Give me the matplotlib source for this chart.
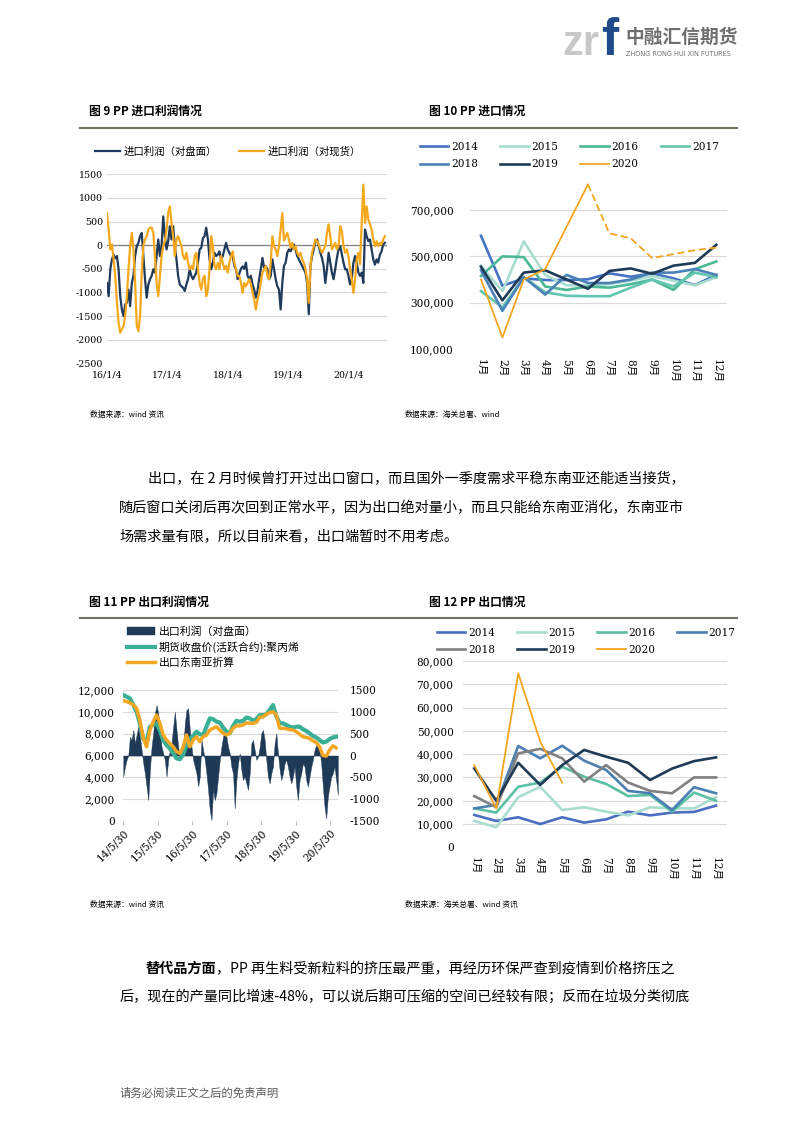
import numpy as np
import pandas as pd
import matplotlib
matplotlib.use('Agg')
import matplotlib.pyplot as plt
from matplotlib.lines import Line2D

CJK = ['Noto Sans CJK SC', 'DejaVu Sans']
SERIF = ['DejaVu Serif', 'Noto Sans CJK SC']
plt.rcParams['font.family'] = CJK
plt.rcParams['axes.unicode_minus'] = False

# ---------------- data ----------------
# Fig 9: import profit (10-day samples from 2016-01-04)
imp_profit_futures = [
    -800, -1080, -510, -300, -200, -280, -230, -510, -1080, -1360, -1500, -1250, -1220, -940, -1290, -800,
    -650, -230, -20, 50, 190, 260, -230, -720, -1110, -830, -720, -650, -510, -580, -230, 120,
    -230, -20, 610, 190, -90, 85, 400, 120, 400, -20, -300, -650, -830, -870, -900, -970,
    -830, -720, -510, -650, -720, -650, -580, -370, -90, -55, 150, 190, 370, 120, -300, -510,
    -370, -160, -230, -200, -130, -300, -230, -90, 50, -90, -160, -230, -230, -440, -510, -720,
    -600, -500, -450, -500, -370, -650, -720, -650, -830, -940, -1110, -970, -720, -510, -270, -480,
    -440, -510, -720, -650, -300, -510, -720, -870, -940, -1360, -800, -440, -370, -160, -90, -130,
    -55, 15, -90, -230, -300, -370, -440, -510, -580, -800, -1460, -440, -230, -90, 85, 120,
    -20, -160, -270, -440, -800, -510, -160, -370, -580, -720, -510, -270, -90, -20, -200, -370,
    -510, -510, -650, -830, -720, -370, -230, -370, -580, -650, -580, -800, 330, 190, 85, 120,
    -90, -300, -410, -300, -370, -200, -130, 15, 50]
imp_profit_spot = [
    680, 330, -90, 15, -300, -650, -1220, -1640, -1850, -1780, -1710, -1500, -1080, -510, -20, 260,
    -90, -800, -1710, -1820, -1500, -600, 0, 120, 190, 330, 370, 370, 260, -230, -800, -1080,
    -650, -230, -20, 85, 330, 680, 820, 470, 190, -230, 120, 190, 85, -20, -230, -300,
    -160, -370, -510, -440, -510, -230, -160, -510, -800, -940, -720, -650, -1080, -940, -510, 190,
    -20, -440, -510, -370, -510, -230, -370, -510, -440, -580, -370, -230, -130, -370, -510, -650,
    -650, -800, -1010, -800, -870, -800, -720, -830, -1010, -1150, -1360, -1150, -1010, -800, -580, -510,
    -440, -650, -720, -370, 190, -20, -90, -230, -20, 330, 680, 100, 190, 260, 120, -55,
    50, -90, -20, -160, -230, -160, -300, -370, -510, -720, -1220, -440, -160, -20, 120, 85,
    15, -90, -160, -90, -20, 260, 440, 190, -90, -20, 50, -90, -20, 400, 300, -20,
    -160, -90, -230, -510, -720, -1010, -720, -300, -160, -400, 470, 1280, 470, 820, 540, 440,
    330, 120, -20, 85, -20, 50, 15, 120, 190]
ticks9 = ['2016-01-04', '2017-01-04', '2018-01-04', '2019-01-04', '2020-01-04']
ticklabels9 = ['16/1/4', '17/1/4', '18/1/4', '19/1/4', '20/1/4']

# Fig 10: monthly imports (t)
months = ['1月', '2月', '3月', '4月', '5月', '6月', '7月', '8月', '9月', '10月', '11月', '12月']
years = ['2014', '2015', '2016', '2017', '2018', '2019', '2020']
imp_2014 = [589000, 373000, 405000, 398000, 398000, 401000, 427000, 412000, 427000, 405000, 376000, 420000]
imp_2015 = [460000, 350000, 565000, 420000, 375000, 375000, 380000, 395000, 415000, 395000, 375000, 410000]
imp_2016 = [415000, 500000, 497000, 370000, 355000, 370000, 365000, 380000, 400000, 355000, 445000, 478000]
imp_2017 = [350000, 280000, 410000, 345000, 330000, 328000, 328000, 365000, 400000, 370000, 430000, 410000]
imp_2018 = [440000, 265000, 410000, 335000, 420000, 385000, 385000, 400000, 430000, 430000, 445000, 420000]
imp_2019 = [455000, 310000, 430000, 440000, 400000, 360000, 437000, 448000, 425000, 460000, 472000, 550000]
imp_2020 = [400000, 150000, 400000, 445000, 628000, 811000, 600000, 578000, 493000, 510000, 527000, 538000]

# Fig 11: export profit (right axis) and prices (left axis), 2014-05-30 .. 2020-08
exp_profit = [
    -485, -255, -100, 0, 430, 355, 585, 280, 470, 660, 430, 125, -180, -410, -710, -1020,
    -330, 200, 510, 965, 1155, 965, 585, 200, 50, -100, -485, -100, 125, 280, 660, 1000,
    585, 200, -100, -30, 125, 735, 1040, 1080, 585, 200, -100, -255, -410, -710, -485, 355,
    125, -100, -410, -790, -1250, -1480, -790, -1020, -865, -485, -100, 200, 430, 585, 430, 200,
    50, -255, -410, -1210, -560, -180, 50, -330, -560, -485, -640, -790, -410, 280, 355, 125,
    -100, -30, 200, 510, 585, 355, -100, -485, -640, -410, -255, 280, 510, 50, -330, -560,
    -410, -180, -100, -255, -485, -640, -485, -255, -710, -1020, -560, -410, -180, -255, -560, -710,
    -485, -255, -100, 125, 240, 200, 125, -180, -710, -1170, -1440, -940, -710, -485, -410, -255,
    -560, -900]
fut_price = [
    11540, 11390, 11230, 10620, 10010, 8900, 7500, 7270, 8640, 8790, 8950, 8300, 7400, 6950, 6650, 6200,
    5740, 5650, 6100, 6950, 7500, 7800, 8180, 7950, 7870, 8640, 9400, 9330, 9100, 9020, 8560, 8180,
    8030, 8700, 9180, 9100, 9180, 9480, 9400, 9180, 9330, 9700, 9700, 9780, 10170, 10620, 9600, 8950,
    8950, 8790, 8640, 8560, 8640, 8640, 8400, 8250, 8030, 7800, 7650, 7420, 7190, 7270, 7500, 7650,
    7720]
sea_price = [
    11020, 10930, 10840, 10620, 10320, 9200, 7600, 6800, 8330, 9100, 9710, 8950, 7880, 7420, 7110, 6800,
    6350, 6190, 6800, 7880, 6800, 7420, 7720, 7270, 7720, 7880, 8330, 8490, 8640, 8330, 8030, 7880,
    8030, 8500, 8720, 8720, 8800, 8980, 8950, 8950, 9030, 9500, 9530, 9780, 9930, 10010, 9710, 8490,
    8490, 8450, 8360, 8330, 8180, 7950, 7720, 7650, 7570, 7340, 7190, 6800, 6000, 5950, 6500, 6880,
    6700]
ticks11 = ['2014-05-30', '2015-05-30', '2016-05-30', '2017-05-30', '2018-05-30', '2019-05-30', '2020-05-30']
ticklabels11 = ['14/5/30', '15/5/30', '16/5/30', '17/5/30', '18/5/30', '19/5/30', '20/5/30']

# Fig 12: monthly exports (t)
exp_2014 = [13900, 11300, 12900, 10000, 12900, 10600, 12000, 15300, 13700, 14900, 15200, 17900]
exp_2015 = [11300, 8600, 21500, 26000, 16000, 17200, 15300, 13700, 17200, 16700, 16700, 21500]
exp_2016 = [16700, 14900, 26000, 27800, 34600, 30300, 27200, 22000, 22500, 15300, 23500, 20000]
exp_2017 = [16700, 18200, 43500, 38200, 43600, 37200, 33200, 24200, 23200, 16000, 25800, 23200]
exp_2018 = [22000, 17200, 40300, 42300, 38200, 28200, 35300, 27800, 24200, 23200, 30000, 30000]
exp_2019 = [33900, 20000, 36300, 26800, 35300, 41800, 38900, 36300, 28900, 33800, 37000, 38600]
exp_2020 = [35300, 16700, 74700, 45400, 27800]

# ---------------- figure ----------------
W, H = 793, 1122
fig = plt.figure(figsize=(W / 100, H / 100), dpi=100)


def fx(px):
    return px / W


def fy(py):
    return 1 - py / H


def axes_px(l, t, r, b):
    return fig.add_axes([l / W, 1 - b / H, (r - l) / W, (b - t) / H])


def style(ax, size, xpad, ypad):
    for s in ax.spines.values():
        s.set_visible(False)
    ax.tick_params(length=0, labelsize=size)
    ax.tick_params(axis='x', pad=xpad)
    ax.tick_params(axis='y', pad=ypad)
    ax.yaxis.grid(True, color='#D9D9D9', lw=0.8)
    ax.set_axisbelow(True)
    for lab in ax.get_xticklabels() + ax.get_yticklabels():
        lab.set_family(SERIF)


def row_major(items, ncol):
    # reorder so that a column-filled legend reads row by row
    nrow = int(np.ceil(len(items) / ncol))
    out = []
    for c in range(ncol):
        for r in range(nrow):
            i = r * ncol + c
            if i < len(items):
                out.append(items[i])
    return out


# header logo
fig.text(fx(562), fy(55), 'zr', fontsize=30, fontweight='bold', color='#C8C8C8',
         family='Liberation Sans', va='baseline')
fig.text(fx(601), fy(55), 'f', fontsize=37, fontweight='bold', color='#1F4A8A',
         family='Liberation Sans', va='baseline')
fig.text(fx(625), fy(37), '中融汇信期货', fontsize=13.5, fontweight='bold', color='#6E6E6E', va='center')
fig.text(fx(626), fy(54.5), 'ZHONG RONG HUI XIN FUTURES', fontsize=4.7, color='#6E6E6E',
         family='DejaVu Sans', va='center')

# titles and rules
fig.text(fx(89), fy(111.7), '图 9 PP 进口利润情况', fontsize=8.5, fontweight='bold', va='center')
fig.text(fx(429), fy(111.7), '图 10 PP 进口情况', fontsize=8.5, fontweight='bold', va='center')
fig.text(fx(89), fy(602.7), '图 11 PP 出口利润情况', fontsize=8.5, fontweight='bold', va='center')
fig.text(fx(429), fy(602.7), '图 12 PP 出口情况', fontsize=8.5, fontweight='bold', va='center')
for yy in (127.7, 618.3):
    fig.add_artist(Line2D([fx(80), fx(737)], [fy(yy), fy(yy)], color='#717164', lw=1.5))

# sources
fig.text(fx(90), fy(415), '数据来源：wind 资讯', fontsize=5.6, va='center')
fig.text(fx(405), fy(415), '数据来源：海关总署、wind', fontsize=5.6, va='center')
fig.text(fx(90), fy(905), '数据来源：wind 资讯', fontsize=5.6, va='center')
fig.text(fx(405), fy(905), '数据来源：海关总署、wind 资讯', fontsize=5.6, va='center')

# body text
BODY = 10.2
fig.text(fx(148), fy(479), '出口，在 2 月时候曾打开过出口窗口，而且国外一季度需求平稳东南亚还能适当接货，',
         fontsize=BODY, va='center')
fig.text(fx(119), fy(508), '随后窗口关闭后再次回到正常水平，因为出口绝对量小，而且只能给东南亚消化，东南亚市',
         fontsize=BODY, va='center')
fig.text(fx(119), fy(537), '场需求量有限，所以目前来看，出口端暂时不用考虑。', fontsize=BODY, va='center')
tb = fig.text(fx(146), fy(969), '替代品方面', fontsize=BODY, fontweight='bold', va='center')
fig.canvas.draw()
bb = tb.get_window_extent(renderer=fig.canvas.get_renderer())
fig.text(bb.x1 / W - fx(1), fy(969), '，PP 再生料受新粒料的挤压最严重，再经历环保严查到疫情到价格挤压之',
         fontsize=BODY, va='center')
fig.text(fx(119), fy(997), '后，现在的产量同比增速-48%，可以说后期可压缩的空间已经较有限；反而在垃圾分类彻底',
         fontsize=BODY, va='center')
fig.text(fx(120), fy(1093), '请务必阅读正文之后的免责声明', fontsize=8.2, color='#595959', va='center')

# ---------------- Fig 9 ----------------
ax9 = axes_px(107, 174.3, 386.5, 363.3)
d9 = pd.date_range('2016-01-04', periods=len(imp_profit_futures), freq='10D')
d9b = pd.date_range('2016-01-04', periods=len(imp_profit_spot), freq='10D')
ax9.plot(d9, imp_profit_futures, color='#1F3A5A', lw=1.6, label='进口利润（对盘面）')
ax9.plot(d9b, imp_profit_spot, color='#F5A81C', lw=1.6, label='进口利润（对现货）')
ax9.axhline(0, color='#808080', lw=0.9, zorder=1.5)
ax9.set_ylim(-2500, 1500)
ax9.set_yticks(np.arange(-2500, 1501, 500))
ax9.set_yticklabels([str(v) for v in np.arange(-2500, 1501, 500)])
ax9.set_xlim(pd.Timestamp('2016-01-04'), pd.Timestamp('2020-08-20'))
ax9.set_xticks(pd.to_datetime(ticks9))
ax9.set_xticklabels(ticklabels9)
style(ax9, 6.8, 5, 3)
ax9.legend(loc='upper left', bbox_to_anchor=(fx(95), fy(146.5)), bbox_transform=fig.transFigure,
           ncol=2, frameon=False, fontsize=7.5, handlelength=2.4, handletextpad=0.3,
           columnspacing=2.2, borderpad=0, borderaxespad=0)

# ---------------- Fig 10 ----------------
ax10 = axes_px(470.3, 180, 727, 349)
xm = np.arange(len(months))
c10 = ['#4472C4', '#A9DDD0', '#4DB895', '#62C5AE', '#4A82B8', '#1E3A56', '#F2A51F']
series10 = [imp_2014, imp_2015, imp_2016, imp_2017, imp_2018, imp_2019]
handles10 = []
for ser, col, yr in zip(series10, c10[:6], years[:6]):
    h, = ax10.plot(xm, ser, color=col, lw=1.9, label=yr)
    handles10.append(h)
h, = ax10.plot(xm[:6], imp_2020[:6], color=c10[6], lw=1.3, label='2020')
handles10.append(h)
ax10.plot(xm[5:], imp_2020[5:], color=c10[6], lw=1.3, ls=(0, (4, 2)))
ax10.set_xlim(-0.5, 11.5)
ax10.set_ylim(100000, 830000)
yt10 = [100000, 300000, 500000, 700000]
ax10.set_yticks(yt10)
ax10.set_yticklabels([f'{v:,}' for v in yt10])
ax10.set_xticks(xm)
ax10.set_xticklabels(months, rotation=-90, va='top', ha='center')
style(ax10, 7.6, 7, 12)
ax10.legend(handles=row_major(handles10, 4), loc='upper left', bbox_to_anchor=(fx(420), fy(142)),
            bbox_transform=fig.transFigure, ncol=4, frameon=False,
            prop={'family': SERIF, 'size': 7.6}, handlelength=2.7, handletextpad=0.25,
            columnspacing=2.1, labelspacing=0.7, borderpad=0, borderaxespad=0)

# ---------------- Fig 11 ----------------
ax11 = axes_px(123.3, 690, 338.3, 821)
ax11r = ax11.twinx()
db = pd.date_range('2014-05-30', '2020-08-20', periods=len(exp_profit))
dl = pd.date_range('2014-05-30', '2020-08-03', periods=len(fut_price))
bar = ax11r.fill_between(db, 0, exp_profit, color='#1F3A56', lw=0.3, edgecolor='#1F3A56',
                         label='出口利润（对盘面）')
l1, = ax11.plot(dl, fut_price, color='#3BAF95', lw=3.0, label='期货收盘价(活跃合约):聚丙烯')
l2, = ax11.plot(dl, sea_price, color='#F5A623', lw=2.5, label='出口东南亚折算')
ax11.set_zorder(ax11r.get_zorder() + 1)
ax11.patch.set_visible(False)
ax11.set_ylim(0, 12000)
ax11r.set_ylim(-1500, 1500)
ax11.set_yticks(np.arange(0, 12001, 2000))
ax11.set_yticklabels([f'{v:,}' for v in np.arange(0, 12001, 2000)])
ax11r.set_yticks(np.arange(-1500, 1501, 500))
ax11r.set_yticklabels([str(v) for v in np.arange(-1500, 1501, 500)])
ax11.set_xlim(pd.Timestamp('2014-05-30'), pd.Timestamp('2020-08-25'))
ax11.set_xticks(pd.to_datetime(ticks11))
ax11.set_xticklabels(ticklabels11, rotation=45, ha='right', va='top', rotation_mode='anchor')
for a in (ax11, ax11r):
    for s in a.spines.values():
        s.set_visible(False)
    a.tick_params(length=0, labelsize=7.6)
    for lab in a.get_xticklabels() + a.get_yticklabels():
        lab.set_family(SERIF)
ax11.tick_params(axis='x', length=3, color='#BFBFBF', pad=2)
ax11.tick_params(axis='y', pad=6)
ax11r.tick_params(axis='y', pad=8)
ax11r.yaxis.grid(True, color='#D9D9D9', lw=0.8)
ax11r.set_axisbelow(True)
ax11.legend(handles=[bar, l1, l2], loc='upper left', bbox_to_anchor=(fx(127), fy(626)),
            bbox_transform=fig.transFigure, ncol=1, frameon=False, fontsize=7.8,
            handlelength=2.6, handletextpad=0.3, labelspacing=0.45, borderpad=0, borderaxespad=0)

# ---------------- Fig 12 ----------------
ax12 = axes_px(463.3, 661, 727, 847.3)
c12 = ['#4A6FC0', '#A9DDD0', '#5BBFA3', '#4A7FB3', '#808080', '#1E3A56', '#F2A51F']
series12 = [exp_2014, exp_2015, exp_2016, exp_2017, exp_2018, exp_2019]
handles12 = []
for ser, col, yr in zip(series12, c12[:6], years[:6]):
    h, = ax12.plot(xm, ser, color=col, lw=1.9, label=yr)
    handles12.append(h)
h, = ax12.plot(xm[:len(exp_2020)], exp_2020, color=c12[6], lw=1.3, label='2020')
handles12.append(h)
ax12.set_xlim(-0.5, 11.5)
ax12.set_ylim(0, 80000)
yt12 = np.arange(0, 80001, 10000)
ax12.set_yticks(yt12)
ax12.set_yticklabels([f'{v:,}' for v in yt12])
ax12.set_xticks(xm)
ax12.set_xticklabels(months, rotation=-90, va='top', ha='center')
style(ax12, 7.6, 7, 7)
ax12.legend(handles=row_major(handles12, 4), loc='upper left', bbox_to_anchor=(fx(436.7), fy(627.5)),
            bbox_transform=fig.transFigure, ncol=4, frameon=False,
            prop={'family': SERIF, 'size': 7.6}, handlelength=2.7, handletextpad=0.25,
            columnspacing=2.1, labelspacing=0.7, borderpad=0, borderaxespad=0)

fig.savefig('out.png', dpi=100)
